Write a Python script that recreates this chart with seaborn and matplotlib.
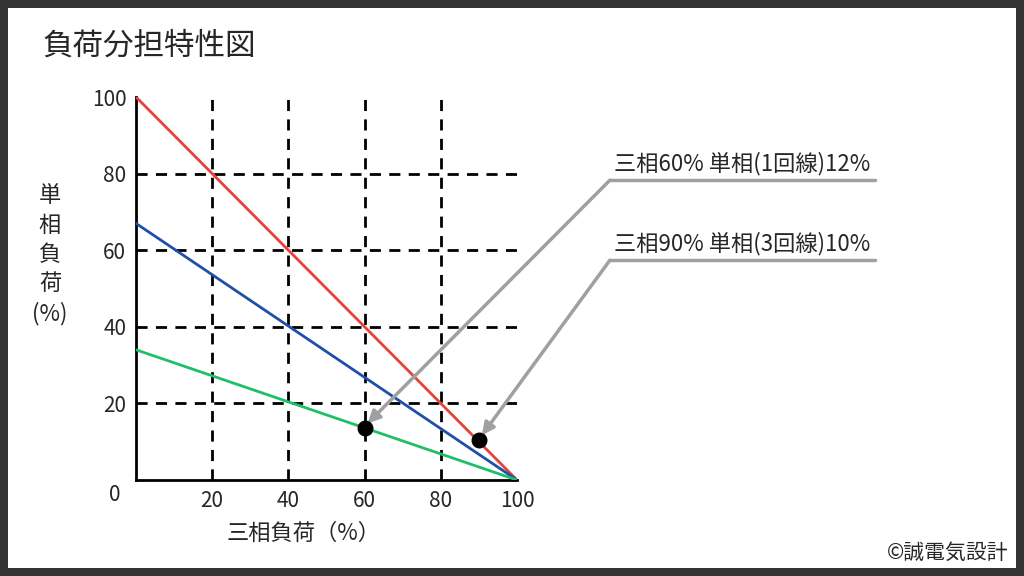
import matplotlib.pyplot as plt
import seaborn as sns
from matplotlib.patches import Rectangle

# 三相負荷 (%) と各線の単相負荷 (%)
three_phase = [0, 100]
red_line = [100, 0]
blue_line = [67, 0]
green_line = [34, 0]

# 注記つきの点
point_x = [60, 90]
point_y = [13.6, 10.5]
notes = ['三相60% 単相(1回線)12%', '三相90% 単相(3回線)10%']
note_y = [78.3, 57.4]
ticks = [20, 40, 60, 80, 100]

sns.set_style('white')
plt.rcParams['font.family'] = ['Noto Sans CJK JP', 'DejaVu Sans']

fig = plt.figure(figsize=(10.24, 5.76), dpi=100, facecolor='#333333')
fig.patches.append(Rectangle((8 / 1024, 8 / 576), 1008 / 1024, 560 / 576,
                             transform=fig.transFigure, facecolor='white',
                             edgecolor='none', zorder=-1))
ax = fig.add_axes([136 / 1024, 96 / 576, 381 / 1024, 383 / 576])
ax.set_facecolor('none')

for v in ticks[:-1]:
    ax.axvline(v, color='black', ls=(0, (4, 3)), lw=2, zorder=1)
    ax.axhline(v, color='black', ls=(0, (4, 3)), lw=2, zorder=1)

sns.lineplot(x=three_phase, y=red_line, color='#e8403c', lw=2, ax=ax, zorder=3)
sns.lineplot(x=three_phase, y=blue_line, color='#1f4fa8', lw=2, ax=ax, zorder=3)
sns.lineplot(x=three_phase, y=green_line, color='#1fbf6a', lw=2, ax=ax, zorder=3)
ax.scatter(point_x, point_y, s=110, color='black', zorder=5)

ax.set_xlim(0, 100)
ax.set_ylim(0, 100)
ax.set_xticks(ticks)
ax.set_yticks(ticks)
ax.tick_params(length=0, labelsize=15, pad=7)
for s in ['top', 'right']:
    ax.spines[s].set_visible(False)
for s in ['left', 'bottom']:
    ax.spines[s].set_linewidth(2)
    ax.spines[s].set_color('black')
ax.text(-5.5, -4, '0', fontsize=15, ha='center', va='center')

ax.text(44, -14, '三相負荷（%）', fontsize=16, ha='center', va='center')
fig.text(50 / 1024, 1 - 255 / 576, '単\n相\n負\n荷\n(%)', fontsize=16,
         ha='center', va='center', linespacing=1.35)

gray = '#a0a0a0'
for px, py, note, ny in zip(point_x, point_y, notes, note_y):
    ax.plot([124.4, 194], [ny, ny], color=gray, lw=2.5, clip_on=False)
    ax.text(125.5, ny + 1.3, note, fontsize=16, va='bottom', ha='left')
    ax.annotate('', xy=(px + 0.8, py + 1.2), xytext=(124.4, ny),
                arrowprops=dict(arrowstyle='-|>', color=gray, lw=2.5,
                                mutation_scale=18, shrinkA=0, shrinkB=0),
                annotation_clip=False)

fig.text(42 / 1024, 1 - 46 / 576, '負荷分担特性図', fontsize=22, ha='left', va='center')
fig.text(1008 / 1024, 1 - 553 / 576, '©誠電気設計', fontsize=15, ha='right', va='center')

fig.savefig('out.png', dpi=100, facecolor=fig.get_facecolor())
